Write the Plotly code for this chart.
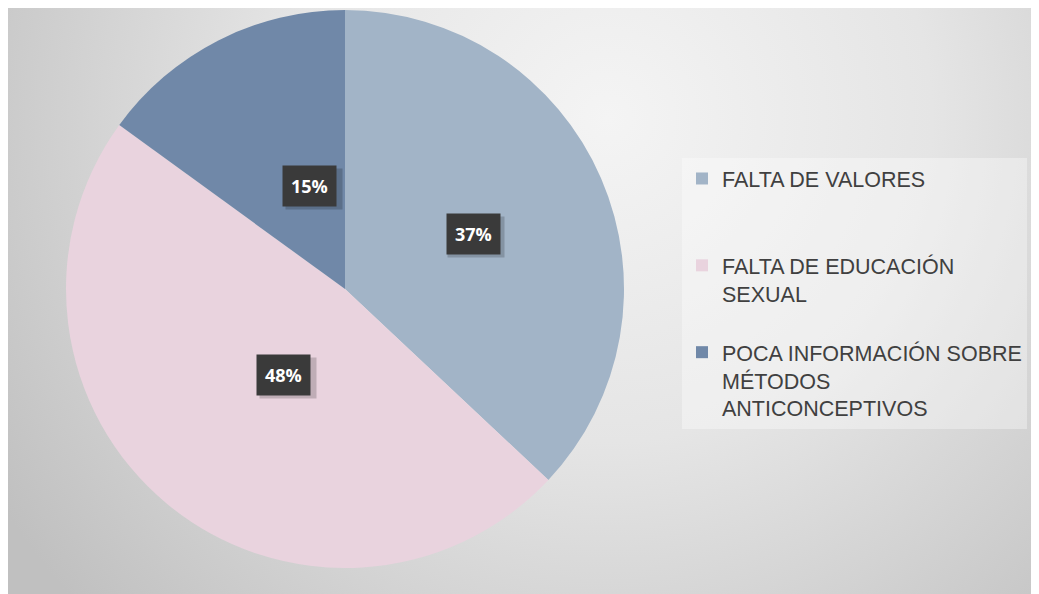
import base64
import math

import plotly.graph_objects as go

# data
labels = [
    "FALTA DE VALORES",
    "FALTA DE EDUCACIÓN<br>SEXUAL",
    "POCA INFORMACIÓN SOBRE<br>MÉTODOS<br>ANTICONCEPTIVOS",
]
shares = [37, 48, 15]
colors = ["#A2B4C7", "#E9D3DE", "#7088A8"]

W, H = 1039, 594
M_L, M_R, M_T, M_B = 0, 0, 2, 34
PLOT_H = H - M_T - M_B

# pie placement (figure pixels)
CX, R = 337, 279
dom_x = [(CX - R) / W, (CX + R) / W]

# extra blank lines give the roomy legend spacing of the original
legend_names = [labels[0] + "<br> <br> ", labels[1] + "<br> ", labels[2]]

# soft radial background, drawn as an svg picture behind the chart
bg_svg = """<svg xmlns="http://www.w3.org/2000/svg" width="1039" height="594" viewBox="0 0 1039 594" preserveAspectRatio="none">
<defs><radialGradient id="g" gradientUnits="userSpaceOnUse" cx="600" cy="110" r="720">
<stop offset="0" stop-color="#f4f4f4"/><stop offset="0.45" stop-color="#e5e5e5"/>
<stop offset="1" stop-color="#c0c0c0"/></radialGradient></defs>
<rect width="1039" height="594" fill="url(#g)"/></svg>"""
bg_src = "data:image/svg+xml;base64," + base64.b64encode(bg_svg.encode()).decode()


def px_to_paper_y(py):
    return (H - M_B - py) / PLOT_H


fig = go.Figure(
    go.Pie(
        labels=legend_names,
        values=shares,
        sort=False,
        direction="clockwise",
        rotation=0,
        marker={"colors": colors, "line": {"width": 0}},
        textinfo="none",
        hoverinfo="label+percent",
        domain={"x": dom_x, "y": [0, 1]},
    )
)

# percentage boxes at half radius, on the middle of each slice
total = sum(shares)
start = 0.0
for val in shares:
    mid = (start + val / 2) / total * 2 * math.pi
    start += val
    px = CX + 0.5 * R * math.sin(mid)
    py = M_T + R - 0.5 * R * math.cos(mid)
    common = dict(
        x=px / W, y=px_to_paper_y(py), xref="paper", yref="paper",
        showarrow=False, borderpad=8,
    )
    # shadow box: blank figure spaces roughly as wide as the label
    fig.add_annotation(
        text="<b>\u2007\u2007\u2007\u2002</b>", bgcolor="rgba(0,0,0,0.18)",
        xshift=3, yshift=-3,
        font={"family": "Open Sans, Arial", "size": 18, "color": "rgba(0,0,0,0)"},
        **common,
    )
    fig.add_annotation(
        text=f"<b>{round(val / total * 100)}%</b>", bgcolor="#3a3a3a",
        font={"family": "Open Sans, Arial", "size": 18, "color": "white"},
        **common,
    )

fig.add_layout_image(
    source=bg_src, xref="paper", yref="paper",
    x=0, y=px_to_paper_y(0), sizex=1, sizey=H / PLOT_H,
    xanchor="left", yanchor="top", sizing="stretch", layer="below",
)

fig.update_layout(
    width=W,
    height=H,
    margin={"l": M_L, "r": M_R, "t": M_T, "b": M_B},
    paper_bgcolor="#d6d6d6",
    plot_bgcolor="rgba(0,0,0,0)",
    showlegend=True,
    legend={
        "x": 674 / W,
        "y": px_to_paper_y(150),
        "xanchor": "left",
        "yanchor": "top",
        "valign": "top",
        "bgcolor": "rgba(255,255,255,0.35)",
        "font": {"family": "Arial, Liberation Sans", "size": 21.5, "color": "#404040"},
    },
)

fig.write_html("out.html")
